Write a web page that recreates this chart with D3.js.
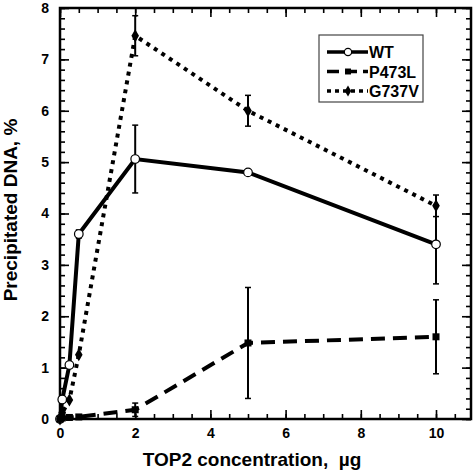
<!DOCTYPE html>
<html><head><meta charset="utf-8">
<script src="https://cdn.jsdelivr.net/npm/d3@7"></script>
<style>body{margin:0;background:#fff}svg{display:block}text{font-family:"Liberation Sans",Arial,Helvetica,sans-serif;font-weight:bold;fill:#000}</style>
</head><body>
<svg id="c" width="475" height="473"></svg>
<script>
const doses = [0, 0.06, 0.25, 0.5, 2, 5, 10];
const wtValues = [0, 0.38, 1.05, 3.6, 5.06, 4.8, 3.4];
const wtErr = [0, 0, 0, 0.08, 0.66, 0.05, 0.77];
const p473lValues = [0, 0.02, 0.03, 0.04, 0.18, 1.48, 1.6];
const p473lErr = [0, 0, 0, 0, 0.13, 1.08, 0.72];
const g737vValues = [0, 0.12, 0.37, 1.25, 7.46, 6.0, 4.15];
const g737vErr = [0, 0, 0, 0, 0.39, 0.3, 0.21];
const seriesNames = ["WT", "P473L", "G737V"];
const xTicks = [0, 2, 4, 6, 8, 10];
const yTicks = [0, 1, 2, 3, 4, 5, 6, 7, 8];

const svg = d3.select("#c");
const L = 60, R = 471, T = 8, B = 419;
const x = d3.scaleLinear().domain([0, 10]).range([L, 436]);
const y = d3.scaleLinear().domain([0, 8]).range([B, T]);

const xMinor = d3.range(0, 11, 0.5);
const yMinor = d3.range(0, 8.01, 0.2).map(v => +v.toFixed(1));
svg.append("g").attr("transform", `translate(0,${B})`)
  .call(d3.axisBottom(x).tickValues(xMinor).tickSize(-5).tickFormat(""));
svg.append("g").attr("transform", `translate(0,${B})`)
  .call(d3.axisBottom(x).tickValues(xTicks).tickSize(-9).tickPadding(9).tickFormat(d3.format("d")));
svg.append("g").attr("transform", `translate(0,${T})`)
  .call(d3.axisTop(x).tickValues(xMinor).tickSize(-5).tickFormat(""));
svg.append("g").attr("transform", `translate(0,${T})`)
  .call(d3.axisTop(x).tickValues(xTicks).tickSize(-9).tickFormat(""));
svg.append("g").attr("transform", `translate(${L},0)`)
  .call(d3.axisLeft(y).tickValues(yMinor).tickSize(-5).tickFormat(""));
svg.append("g").attr("transform", `translate(${L},0)`)
  .call(d3.axisLeft(y).tickValues(yTicks).tickSize(-9).tickPadding(11).tickFormat(d3.format("d")));
svg.append("g").attr("transform", `translate(${R},0)`)
  .call(d3.axisRight(y).tickValues(yMinor).tickSize(-5).tickFormat(""));
svg.append("g").attr("transform", `translate(${R},0)`)
  .call(d3.axisRight(y).tickValues(yTicks).tickSize(-9).tickFormat(""));
svg.selectAll(".domain").remove();
svg.selectAll(".tick line").attr("stroke", "#000").attr("stroke-width", 1.6);
svg.selectAll(".tick text").style("font-size", "14px").style("font-family", "'Liberation Sans',Arial,sans-serif").style("font-weight", "bold");
svg.append("rect").attr("x", L).attr("y", T).attr("width", R - L).attr("height", B - T)
  .attr("fill", "none").attr("stroke", "#000").attr("stroke-width", 2.5);

const series = [
  {name: seriesNames[0], vals: wtValues, err: wtErr, dash: null, marker: "circle"},
  {name: seriesNames[1], vals: p473lValues, err: p473lErr, dash: "14,8", marker: "square"},
  {name: seriesNames[2], vals: g737vValues, err: g737vErr, dash: "4,5", marker: "diamond"}
];
const line = d3.line().x(d => x(d[0])).y(d => y(d[1]));

function drawMarker(sel, type, k) {
  k = k || 1;
  if (type === "circle") {
    sel.append("circle").attr("r", 4.3 * k).attr("fill", "#fff").attr("stroke", "#000").attr("stroke-width", 1.2);
  } else if (type === "square") {
    sel.append("rect").attr("x", -3.5 * k).attr("y", -3.5 * k).attr("width", 7 * k).attr("height", 7 * k).attr("fill", "#000");
  } else {
    sel.append("path").attr("d", d3.symbol(d3.symbolDiamond, 50 * k * k)()).attr("fill", "#000");
  }
}

series.forEach(s => {
  const eg = svg.append("g");
  doses.forEach((d, i) => {
    if (s.err[i] <= 0.06) return;
    const cx = x(d), y1 = y(s.vals[i] + s.err[i]), y2 = y(s.vals[i] - s.err[i]);
    eg.append("line").attr("x1", cx).attr("x2", cx).attr("y1", y1).attr("y2", y2).attr("stroke", "#000").attr("stroke-width", 2);
    [y1, y2].forEach(yy => eg.append("line").attr("x1", cx - 3).attr("x2", cx + 3).attr("y1", yy).attr("y2", yy).attr("stroke", "#000").attr("stroke-width", 1.5));
  });
});
series.slice().reverse().forEach(s => {
  svg.append("path").datum(doses.map((d, i) => [d, s.vals[i]]))
    .attr("d", line).attr("fill", "none").attr("stroke", "#000").attr("stroke-width", 4)
    .attr("stroke-dasharray", s.dash);
});
series.forEach(s => {
  doses.forEach((d, i) => {
    const m = svg.append("g").attr("transform", `translate(${x(d)},${y(s.vals[i])})`);
    drawMarker(m, s.marker);
  });
});

svg.append("rect").attr("x", 319).attr("y", 35).attr("width", 104).attr("height", 67)
  .attr("fill", "#fff").attr("stroke", "#444").attr("stroke-width", 1.2);
series.forEach((s, i) => {
  const ly = 52 + i * 19.5;
  svg.append("line").attr("x1", 327).attr("x2", 368).attr("y1", ly).attr("y2", ly)
    .attr("stroke", "#000").attr("stroke-width", 3.5).attr("stroke-dasharray", s.dash ? (i === 1 ? "12,6" : "4,4") : null);
  const m = svg.append("g").attr("transform", `translate(348,${ly})`);
  drawMarker(m, s.marker, 0.85);
  svg.append("text").attr("x", 369).attr("y", ly + 6).style("font-size", "16px").text(s.name);
});

svg.append("text").attr("x", 252).attr("y", 466).attr("text-anchor", "middle").style("font-size", "19px")
  .style("white-space", "pre").attr("xml:space", "preserve")
  .text("TOP2 concentration,  µg");
svg.append("text").attr("transform", "translate(17,210) rotate(-90)").attr("text-anchor", "middle").style("font-size", "19px")
  .text("Precipitated DNA, %");
</script>
</body></html>
